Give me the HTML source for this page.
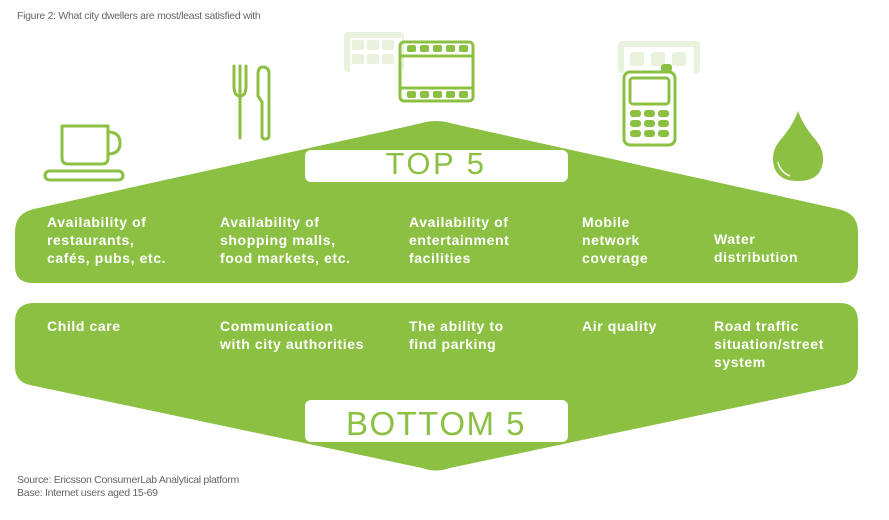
<!DOCTYPE html>
<html><head><meta charset="utf-8"><style>
body{margin:0;background:#fff;width:889px;height:520px;overflow:hidden;position:relative;font-family:"Liberation Sans",sans-serif}
.t{position:absolute;color:#fff;font-weight:bold;font-size:14px;line-height:18px;letter-spacing:0.6px}
.s{position:absolute;color:#666;font-size:10.5px;letter-spacing:-0.3px}
</style></head><body>
<svg width="889" height="520" style="position:absolute;left:0;top:0">
<g fill="#8bc043">
<path d="M15,232 Q15,213 34,209 L418,124 Q436,118 454,124 L838,209 Q858,213 858,232 L858,266 Q858,283 840,283 L33,283 Q15,283 15,266 Z"/>
<path d="M15,322 Q15,303 34,303 L840,303 Q858,303 858,322 L858,366 Q858,382 842,385 L450,468 Q436,473 422,468 L30,385 Q15,382 15,366 Z"/>
</g>
<rect x="305" y="150" width="263" height="32" rx="6" fill="#fff"/>
<rect x="305" y="400" width="263" height="42" rx="6" fill="#fff"/>
<text x="436" y="174" text-anchor="middle" font-family="Liberation Sans" font-size="31" fill="#8bc043" letter-spacing="2.5">TOP 5</text>
<text x="436" y="435" text-anchor="middle" font-family="Liberation Sans" font-size="33" fill="#8bc043" letter-spacing="1.5">BOTTOM 5</text>
<g fill="#e8f2dc">
<rect x="344" y="32" width="60" height="40" rx="4"/>
<rect x="618" y="41" width="82" height="32" rx="4"/>
</g>
<g fill="#fff"><rect x="350" y="38" width="52" height="34"/><rect x="624" y="47" width="70" height="26"/></g>
<g fill="#e8f2dc"><rect x="352" y="40" width="12" height="10" rx="2"/><rect x="367" y="40" width="12" height="10" rx="2"/><rect x="382" y="40" width="12" height="10" rx="2"/><rect x="352" y="54" width="12" height="10" rx="2"/><rect x="367" y="54" width="12" height="10" rx="2"/><rect x="382" y="54" width="12" height="10" rx="2"/>
<rect x="630" y="52" width="14" height="14" rx="3"/><rect x="651" y="52" width="14" height="14" rx="3"/><rect x="672" y="52" width="14" height="14" rx="3"/></g>
<g fill="none" stroke="#8bc043" stroke-width="3" stroke-linecap="round" stroke-linejoin="round">
<path d="M62,126 L108,126 L108,158 Q108,164 102,164 L68,164 Q62,164 62,158 Z"/>
<path d="M108,132 Q120,132 120,143 Q120,154 108,154"/>
<rect x="45" y="171" width="78" height="9" rx="4.5"/>
<path d="M234,66 L234,86 Q234,96 240,96 L240,138 M240,66 L240,96 M246,66 L246,86 Q246,96 240,96"/>
<path d="M263,67 Q258,67 258,74 L258,96 L262,102 L262,136 Q262,139 265,139 Q269,139 269,136 L269,74 Q269,67 263,67Z"/>
<rect x="400" y="42" width="73" height="59" rx="4"/>
<line x1="400" y1="56" x2="473" y2="56"/><line x1="400" y1="88" x2="473" y2="88"/>
<rect x="624" y="72" width="51" height="73" rx="6"/>
<rect x="630" y="78" width="39" height="26" rx="3"/>
</g>
<g fill="#8bc043">
<rect x="407" y="45" width="9" height="7" rx="2"/><rect x="420" y="45" width="9" height="7" rx="2"/><rect x="433" y="45" width="9" height="7" rx="2"/><rect x="446" y="45" width="9" height="7" rx="2"/><rect x="459" y="45" width="9" height="7" rx="2"/>
<rect x="407" y="91" width="9" height="7" rx="2"/><rect x="420" y="91" width="9" height="7" rx="2"/><rect x="433" y="91" width="9" height="7" rx="2"/><rect x="446" y="91" width="9" height="7" rx="2"/><rect x="459" y="91" width="9" height="7" rx="2"/>
<rect x="661" y="64" width="11" height="8" rx="3"/>
<rect x="630" y="110" width="11" height="7" rx="3"/><rect x="644" y="110" width="11" height="7" rx="3"/><rect x="658" y="110" width="11" height="7" rx="3"/>
<rect x="630" y="120" width="11" height="7" rx="3"/><rect x="644" y="120" width="11" height="7" rx="3"/><rect x="658" y="120" width="11" height="7" rx="3"/>
<rect x="630" y="130" width="11" height="7" rx="3"/><rect x="644" y="130" width="11" height="7" rx="3"/><rect x="658" y="130" width="11" height="7" rx="3"/>
<path d="M798,111 Q803,125 814,138 Q823,148 823,158 Q823,181 798,181 Q773,181 773,158 Q773,148 782,138 Q793,125 798,111Z"/>
</g>
<path d="M778,162 Q780,172 790,176" stroke="#fff" stroke-width="1.5" fill="none"/>
</svg>
<div class="s" style="left:17px;top:10px">Figure 2: What city dwellers are most/least satisfied with</div>
<div class="t" style="left:47px;top:213px">Availability of<br>restaurants,<br>cafés, pubs, etc.</div>
<div class="t" style="left:220px;top:213px">Availability of<br>shopping malls,<br>food markets, etc.</div>
<div class="t" style="left:409px;top:213px">Availability of<br>entertainment<br>facilities</div>
<div class="t" style="left:582px;top:213px">Mobile<br>network<br>coverage</div>
<div class="t" style="left:714px;top:230px">Water<br>distribution</div>
<div class="t" style="left:47px;top:317px">Child care</div>
<div class="t" style="left:220px;top:317px">Communication<br>with city authorities</div>
<div class="t" style="left:409px;top:317px">The ability to<br>find parking</div>
<div class="t" style="left:582px;top:317px">Air quality</div>
<div class="t" style="left:714px;top:317px">Road traffic<br>situation/street<br>system</div>
<div class="s" style="left:17px;top:474px;line-height:13px">Source: Ericsson ConsumerLab Analytical platform<br>Base: Internet users aged 15-69</div>
</body></html>
